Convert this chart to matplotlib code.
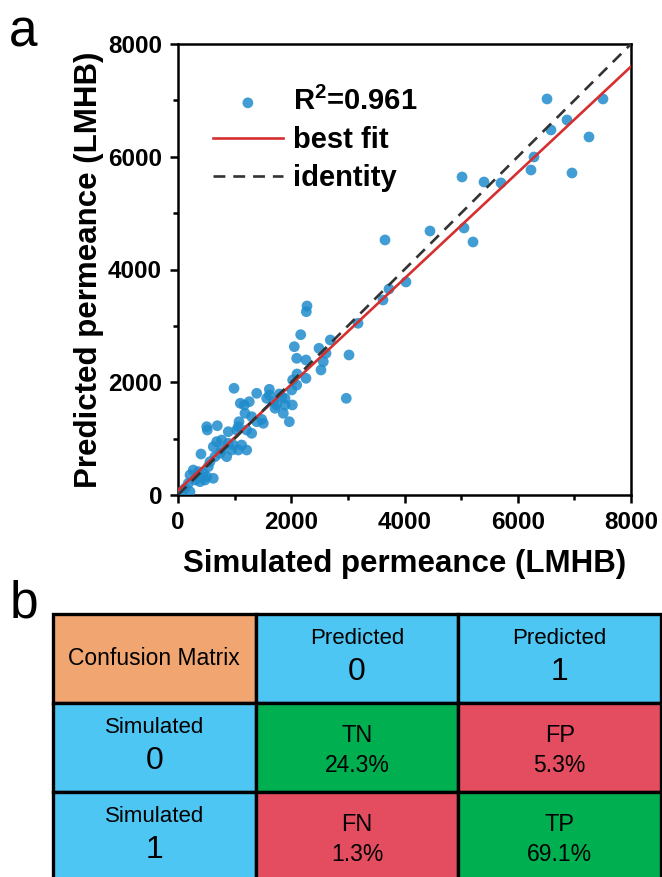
import numpy as np
import matplotlib
matplotlib.use('Agg')
import matplotlib.pyplot as plt
from matplotlib.patches import Rectangle
from matplotlib.ticker import MultipleLocator

plt.rcParams['mathtext.fontset'] = 'custom'
plt.rcParams['mathtext.rm'] = 'Liberation Sans'
plt.rcParams['mathtext.bf'] = 'Liberation Sans:bold'

# ---------------- data ----------------
simulated = [6517, 7505, 6587, 6870, 7258, 6287, 6234, 6958, 5704, 5404, 5016, 5051, 5210,
             4450, 3656, 4026, 3726, 3620, 3179,
             2278, 2266, 2167, 2054, 2690, 2490, 2614, 2096, 2260, 2566, 2525, 3020, 2102,
             2260, 2025, 2096, 2008, 989, 1390, 1613, 1613, 1789, 1566, 1890, 1100, 1171,
             1259, 1690, 1743, 1890, 2019, 2972,
             1831, 1713, 1860, 1183, 1301, 1478, 1507, 1077, 1390, 1065, 507, 517, 694, 888,
             1036, 1213, 1301, 683, 771, 888, 977, 1124, 1213, 1065, 948, 771, 623, 742, 860,
             653, 406, 565, 535, 270, 358, 212, 447, 623, 477, 300, 182, 124, 65, 212, 389,
             507, 1966]
predicted = [7025, 7025, 6475, 6652, 6351, 5996, 5765, 5712, 5535, 5552, 5641, 4737, 4488,
             4683, 4524, 3779, 3654, 3459, 3046,
             3353, 3252, 2844, 2631, 2750, 2602, 2514, 2425, 2395, 2365, 2218, 2484, 2147,
             2070, 2040, 1951, 1863, 1893, 1804, 1875, 1774, 1792, 1715, 1715, 1627, 1597,
             1655, 1655, 1597, 1597, 1597, 1715,
             1744, 1538, 1449, 1449, 1389, 1342, 1272, 1300, 1300, 1212, 1212, 1153, 1229, 1123,
             1153, 1153, 1094, 946, 976, 917, 887, 887, 798, 798, 798, 798, 857, 740, 680,
             680, 727, 591, 502, 443, 414, 355, 385, 296, 266, 266, 208, 119, 59, 59, 236,
             325, 1300]
r2_value = 0.961
fit_slope = 0.94
fit_intercept = 80.0
axis_limits = [0, 8000]

col_header = ["Predicted", "Predicted"]
col_values = ["0", "1"]
row_header = ["Simulated", "Simulated"]
row_values = ["0", "1"]
cell_codes = [["TN", "FP"], ["FN", "TP"]]
cell_pcts = [[24.3, 5.3], [1.3, 69.1]]

# ---------------- style ----------------
ORANGE = '#F1A672'
BLUE = '#4DC6F4'
GREEN = '#00AF50'
RED = '#E44D60'
POINT = '#1f8ccc'
LF = 'Liberation Sans'

fig = plt.figure(figsize=(6.62, 8.77), dpi=100)

ax = fig.add_axes([178/662, 1-495/877, 453/662, 451/877])
ax.scatter(simulated, predicted, s=60, color=POINT, alpha=0.85, edgecolors='none',
           label=r'R$^{\mathbf{2}}$=' + f'{r2_value}', zorder=3)
xs = np.array(axis_limits, dtype=float)
ax.plot(xs, fit_slope*xs + fit_intercept, color='#d62f2f', lw=1.9, label='best fit', zorder=4)
ax.plot(xs, xs, color='#333333', lw=1.9, ls=(0, (4.5, 3)), label='identity', zorder=4)
ax.set_xlim(axis_limits)
ax.set_ylim(axis_limits)
ax.xaxis.set_major_locator(MultipleLocator(2000))
ax.yaxis.set_major_locator(MultipleLocator(2000))
ax.xaxis.set_minor_locator(MultipleLocator(1000))
ax.yaxis.set_minor_locator(MultipleLocator(1000))
ax.tick_params(which='major', direction='out', length=5.5, width=1.8, pad=6)
ax.tick_params(which='minor', direction='out', length=3.5, width=1.8)
for sp in ax.spines.values():
    sp.set_linewidth(1.8)
for lab in ax.get_xticklabels() + ax.get_yticklabels():
    lab.set_fontfamily(LF)
    lab.set_fontweight('bold')
    lab.set_fontsize(17.5)
ax.set_xlabel('Simulated permeance (LMHB)', fontsize=22.5, fontweight='bold',
              family=LF, labelpad=11)
ax.set_ylabel('Predicted permeance (LMHB)', fontsize=22.5, fontweight='bold',
              family=LF, labelpad=3)
leg = ax.legend(loc='upper left', bbox_to_anchor=(0.077, 0.904), frameon=False,
                borderpad=0, borderaxespad=0, handlelength=2.4, handletextpad=0.35,
                labelspacing=0.34, prop={'family': LF, 'weight': 'bold', 'size': 21},
                markerscale=1.0)

fig.text(0.014, 0.990, 'a', fontsize=37, family=LF, va='top', ha='left')
fig.text(0.014, 1-580/877, 'b', fontsize=37, family=LF, va='top', ha='left')

# ---------------- confusion matrix table ----------------
tab = fig.add_axes([53/662, 1-(614+3*89)/877, (661-53)/662, 3*89/877])
tab.set_xlim(0, 3)
tab.set_ylim(3, 0)
tab.axis('off')
colors = [[ORANGE, BLUE, BLUE], [BLUE, GREEN, RED], [BLUE, RED, GREEN]]
for r in range(3):
    for c in range(3):
        tab.add_patch(Rectangle((c, r), 1, 1, facecolor=colors[r][c], edgecolor='black',
                                lw=2.4, clip_on=False))
tab.text(0.5, 0.5, 'Confusion Matrix', ha='center', va='center', fontsize=16.5, family=LF)
for j in range(2):
    tab.text(j+1.5, 0.27, col_header[j], ha='center', va='center', fontsize=16, family=LF)
    tab.text(j+1.5, 0.65, col_values[j], ha='center', va='center', fontsize=23, family=LF)
    tab.text(0.5, j+1.27, row_header[j], ha='center', va='center', fontsize=16, family=LF)
    tab.text(0.5, j+1.65, row_values[j], ha='center', va='center', fontsize=23, family=LF)
for r in range(2):
    for c in range(2):
        tab.text(c+1.5, r+1.37, cell_codes[r][c], ha='center', va='center', fontsize=17, family=LF)
        tab.text(c+1.5, r+1.70, f'{cell_pcts[r][c]}%', ha='center', va='center', fontsize=16.5, family=LF)

fig.savefig('out.png', dpi=100)
